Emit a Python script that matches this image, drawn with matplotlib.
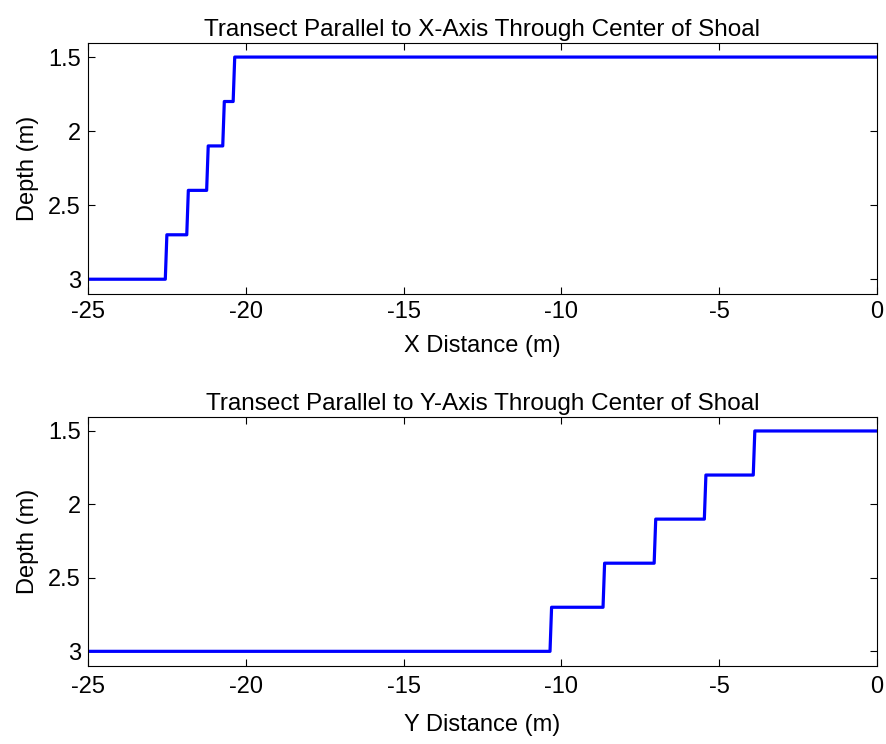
import matplotlib
matplotlib.use('Agg')
import matplotlib.pyplot as plt

# Depth levels (m) and where the steps happen (m)
levels = [3.0, 2.7, 2.4, 2.1, 1.8, 1.5]
x_steps = [-22.55, -21.87, -21.24, -20.73, -20.4]
y_steps = [-10.36, -8.68, -7.06, -5.47, -3.92]
x_start, x_end = -25, 0

yticks = [1.5, 2, 2.5, 3]
ytick_labels = ['1.5', '2', '2.5', '3']
xticks = [-25, -20, -15, -10, -5, 0]
xtick_labels = ['-25', '-20', '-15', '-10', '-5', '0']

plt.rcParams['font.family'] = ['Liberation Sans', 'DejaVu Sans']
plt.rcParams['font.size'] = 17


def profile(steps):
    xs = [x_start]
    ys = [levels[0]]
    for s, lo, hi in zip(steps, levels[:-1], levels[1:]):
        xs += [s, s + 0.05]
        ys += [lo, hi]
    xs.append(x_end)
    ys.append(levels[-1])
    return xs, ys


fig = plt.figure(figsize=(8.86, 7.44), dpi=100)
ax1 = fig.add_axes([0.0993, 0.6048, 0.8905, 0.3374])
ax2 = fig.add_axes([0.0993, 0.1048, 0.8905, 0.3347])

panels = [
    (ax1, x_steps, 'Transect Parallel to X-Axis Through Center of Shoal', 'X Distance (m)', 9, 5),
    (ax2, y_steps, 'Transect Parallel to Y-Axis Through Center of Shoal', 'Y Distance (m)', 12, 7),
]
for ax, steps, title, xlabel, pad, tpad in panels:
    xs, ys = profile(steps)
    ax.plot(xs, ys, color='blue', lw=2.3)
    ax.set_xlim(-25, 0)
    ax.set_ylim(3.1, 1.405)
    ax.set_xticks(xticks)
    ax.set_xticklabels(xtick_labels)
    ax.set_yticks(yticks)
    ax.set_yticklabels(ytick_labels)
    ax.tick_params(direction='in', top=True, right=True, length=5, width=0.8)
    ax.tick_params(axis='x', pad=tpad)
    ax.tick_params(axis='y', pad=5)
    ax.set_title(title, fontsize=17.5, pad=5)
    ax.set_xlabel(xlabel, labelpad=pad)
    ax.set_ylabel('Depth (m)', labelpad=7)
    for sp in ax.spines.values():
        sp.set_linewidth(0.8)

fig.savefig('out.png', dpi=100)
